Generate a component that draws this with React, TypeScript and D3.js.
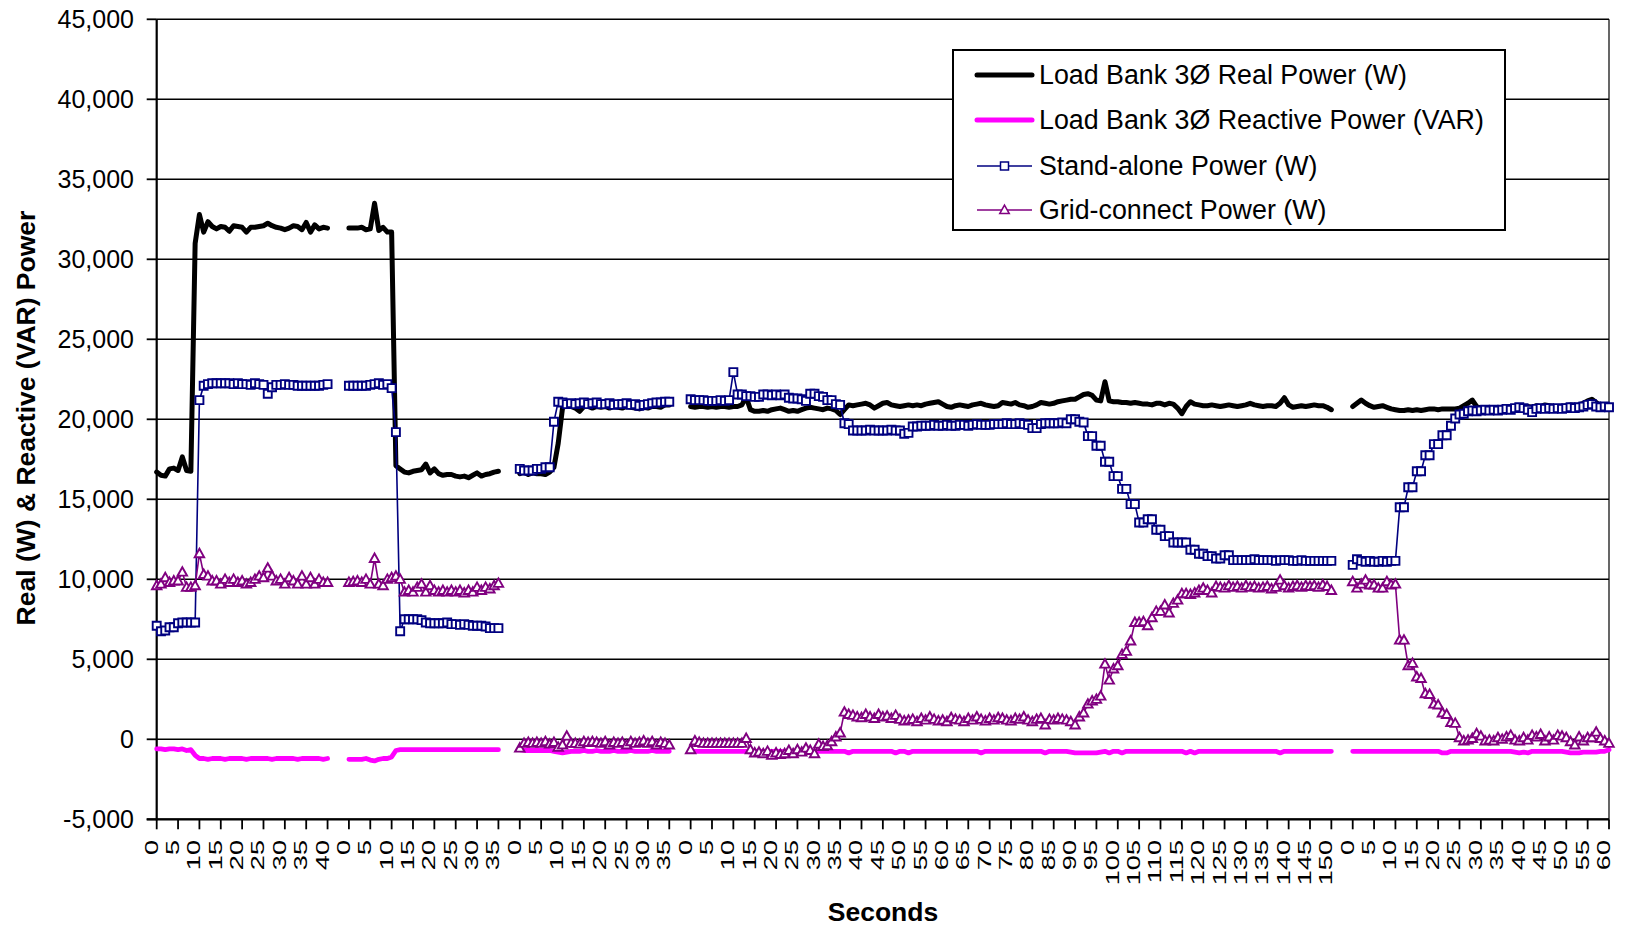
import React from 'react';
import * as d3 from 'd3';

// ---------- axis / category data ----------
const TOTAL_CATEGORIES = 341;
const SEGMENT_STARTS = [0, 45, 85, 125, 280];
const X_TICK_STEP = 5;
const xTickLabels = [
  '0', '5', '10', '15', '20', '25', '30', '35', '40',
  '0', '5', '10', '15', '20', '25', '30', '35',
  '0', '5', '10', '15', '20', '25', '30', '35',
  '0', '5', '10', '15', '20', '25', '30', '35', '40', '45', '50', '55', '60', '65', '70', '75',
  '80', '85', '90', '95', '100', '105', '110', '115', '120', '125', '130', '135', '140', '145', '150',
  '0', '5', '10', '15', '20', '25', '30', '35', '40', '45', '50', '55', '60',
];
const yTickValues = [-5000, 0, 5000, 10000, 15000, 20000, 25000, 30000, 35000, 40000, 45000];
const yTickLabels = ['-5,000', '0', '5,000', '10,000', '15,000', '20,000', '25,000', '30,000', '35,000', '40,000', '45,000'];

const seriesNames = [
  'Load Bank 3\u00D8 Real Power (W)',
  'Load Bank 3\u00D8 Reactive Power (VAR)',
  'Stand-alone Power (W)',
  'Grid-connect Power (W)',
];

// ---------- Load Bank real power (W) ----------
const realSeg1 = [
  16700, 16500, 16450, 16900, 16950, 16800, 17650, 16800, 16750, 31000,
  32800, 31700, 32350, 32050, 31900, 32050, 32000, 31750, 32100, 32050,
  32000, 31700, 32000, 32000, 32050, 32100, 32250, 32100, 32000, 31950,
  31850, 31950, 32100, 32050, 31850, 32300, 31700, 32150, 31900, 32000,
  31950,
];
const realSeg2 = [
  31950, 31950, 31950, 32000, 31850, 31900, 33500, 31800, 32000, 31700,
  31700, 17100, 16900, 16700, 16650, 16750, 16800, 16850, 17200, 16650,
  16900, 16600, 16500, 16550, 16550, 16450, 16400, 16450, 16350, 16500,
  16650, 16450, 16550, 16600, 16700, 16750,
];
const realSeg3 = [
  16600, 16700, 16550, 16650, 16600, 16600, 16550, 16700, 17000, 18500,
  20700, 20900, 20800, 20700, 20500, 20800, 20800, 20700, 20800, 20750,
  20800, 20700, 20800, 20750, 20700, 20800, 20750, 20700, 20650, 20750,
  20700, 20800, 20800, 20750, 20900, 20900,
];
const realSeg4 = [
  20800, 20750, 20800, 20800, 20750, 20800, 20750, 20800, 20800, 20750,
  20800, 20800, 20900, 21400, 20600, 20500, 20500, 20550, 20500, 20600,
  20650, 20700, 20600, 20500, 20550, 20500, 20600, 20700, 20750, 20700,
  20650, 20600, 20700, 20650, 20550, 20300, 20600, 20900, 20850, 20900,
  20950, 21000, 20900, 20700, 20850, 21000, 21050, 20900, 20850, 20800,
  20850, 20900, 20850, 20900, 20850, 20950, 21000, 21050, 21100, 20950,
  20800, 20750, 20850, 20900, 20850, 20800, 20900, 20950, 21000, 20900,
  20850, 20800, 20850, 21050, 21000, 20950, 21050, 20900, 20850, 20750,
  20800, 20900, 21050, 21000, 20950, 21000, 21100, 21150, 21200, 21250,
  21250, 21400, 21550, 21600, 21500, 21200, 21150, 22350, 21150, 21100,
  21100, 21050, 21050, 21000, 21050, 21000, 20950, 20950, 20900, 21000,
  21000, 20900, 21000, 20950, 20700, 20350, 20800, 21100, 20950, 20900,
  20850, 20850, 20900, 20850, 20800, 20850, 20900, 20850, 20800, 20850,
  20900, 21000, 20900, 20850, 20800, 20850, 20850, 20800, 21000, 21350,
  20900, 20750, 20800, 20850, 20800, 20850, 20900, 20850, 20850, 20750,
  20600,
];
const realSeg5 = [
  20800, 21000, 21200, 21000, 20850, 20750, 20800, 20850, 20750, 20650,
  20600, 20550, 20550, 20600, 20550, 20600, 20550, 20600, 20650, 20650,
  20600, 20650, 20650, 20650, 20650, 20700, 20850, 21000, 21200, 20800,
  20700, 20650, 20600, 20600, 20650, 20700, 20650, 20700, 20750, 20700,
  20750, 20800, 20750, 20850, 20800, 20900, 20850, 20800, 20750, 20800,
  20850, 20900, 20850, 20900, 21000, 21150, 21250, 21050, 20850, 20800,
  20800,
];

// ---------- Load Bank reactive power (VAR) ----------
const reactiveSeg1 = [
  -600, -600, -650, -600, -600, -650, -600, -700, -650, -1000,
  -1200, -1200, -1250, -1200, -1200, -1200, -1250, -1200, -1200, -1200,
  -1200, -1250, -1200, -1200, -1200, -1200, -1200, -1250, -1200, -1200,
  -1200, -1200, -1200, -1250, -1200, -1200, -1200, -1200, -1200, -1250,
  -1200,
];
const reactiveSeg2 = [
  -1250, -1250, -1250, -1250, -1200, -1300, -1350, -1250, -1200, -1200,
  -1100, -700, -650, -650, -650, -650, -650, -650, -650, -650,
  -650, -650, -650, -650, -650, -650, -650, -650, -650, -650,
  -650, -650, -650, -650, -650, -650,
];
const reactiveSeg3 = [
  -650, -700, -700, -700, -700, -700, -700, -700, -750, -800,
  -850, -800, -750, -750, -750, -700, -750, -750, -700, -750,
  -750, -750, -700, -750, -750, -750, -700, -750, -750, -750,
  -750, -700, -750, -750, -750, -750,
];
const reactiveSeg4 = [
  -750, -750, -750, -750, -750, -750, -750, -750, -750, -750,
  -750, -750, -750, -750, -800, -750, -750, -750, -750, -750,
  -750, -750, -750, -750, -750, -750, -750, -750, -750, -750,
  -750, -750, -750, -750, -750, -750, -750, -850, -750, -750,
  -750, -750, -750, -750, -750, -750, -750, -750, -850, -750,
  -750, -850, -750, -750, -750, -750, -750, -750, -750, -750,
  -750, -750, -750, -750, -750, -750, -750, -750, -850, -750,
  -750, -750, -750, -750, -750, -750, -750, -750, -750, -750,
  -750, -750, -750, -850, -750, -750, -750, -750, -750, -800,
  -850, -850, -850, -850, -850, -850, -800, -750, -850, -750,
  -750, -850, -750, -750, -750, -750, -750, -750, -750, -750,
  -750, -750, -750, -750, -750, -750, -850, -750, -850, -750,
  -750, -750, -750, -750, -750, -750, -750, -750, -750, -750,
  -750, -750, -750, -750, -750, -750, -750, -750, -850, -750,
  -750, -750, -750, -750, -750, -750, -750, -750, -750, -750,
  -750,
];
const reactiveSeg5 = [
  -750, -750, -750, -750, -750, -750, -750, -750, -750, -750,
  -750, -750, -750, -750, -750, -750, -750, -750, -750, -750,
  -750, -850, -850, -750, -750, -750, -750, -750, -750, -750,
  -750, -750, -750, -750, -750, -750, -750, -750, -800, -850,
  -800, -850, -750, -750, -750, -750, -750, -750, -750, -750,
  -800, -850, -850, -850, -800, -800, -800, -800, -750, -750,
  -650,
];

// ---------- Stand-alone power (W) ----------
const standAloneSeg1 = [
  7100, 6750, 6800, 7000, 7000, 7250, 7300, 7300, 7300, 7300,
  21200, 22100, 22200, 22250, 22250, 22250, 22250, 22250, 22200, 22250,
  22200, 22200, 22150, 22250, 22200, 22150, 21600, 22000, 22150, 22150,
  22200, 22150, 22150, 22100, 22100, 22100, 22100, 22100, 22100, 22150,
  22200,
];
const standAloneSeg2 = [
  22100, 22100, 22100, 22100, 22100, 22150, 22200, 22250, 22150, 22200,
  21950, 19200, 6750, 7500, 7500, 7500, 7500, 7450, 7300, 7250,
  7250, 7250, 7250, 7300, 7200, 7200, 7150, 7200, 7150, 7100,
  7100, 7100, 7050, 6950, 6950, 6950,
];
const standAloneSeg3 = [
  16900, 16800, 16800, 16800, 16900, 16900, 17000, 17000, 19850, 21100,
  21050, 20950, 21000, 20950, 21000, 21050, 20950, 21000, 21050, 20950,
  20950, 21000, 20900, 20950, 20950, 21000, 20900, 20950, 20850, 20900,
  20950, 21000, 21050, 21050, 21100, 21100,
];
const standAloneSeg4 = [
  21250, 21200, 21200, 21200, 21150, 21150, 21150, 21200, 21150, 21200,
  22950, 21550, 21550, 21450, 21450, 21400, 21400, 21550, 21550, 21500,
  21550, 21500, 21550, 21350, 21300, 21300, 21250, 21150, 21600, 21600,
  21450, 21400, 21200, 21200, 20950, 20900, 19750, 19700, 19300, 19300,
  19300, 19300, 19350, 19300, 19300, 19300, 19300, 19350, 19300, 19300,
  19100, 19150, 19550, 19550, 19600, 19600, 19600, 19650, 19600, 19600,
  19650, 19600, 19600, 19650, 19650, 19600, 19650, 19700, 19650, 19650,
  19650, 19700, 19700, 19700, 19750, 19700, 19700, 19750, 19700, 19650,
  19450, 19450, 19700, 19750, 19750, 19750, 19750, 19800, 19750, 20000,
  20000, 19850, 19800, 18950, 18950, 18350, 18350, 17350, 17350, 16450,
  16450, 15650, 15650, 14700, 14700, 13550, 13550, 13750, 13750, 13100,
  13100, 12700, 12700, 12300, 12300, 12300, 12300, 11850, 11850, 11600,
  11600, 11450, 11450, 11300, 11300, 11500, 11500, 11200, 11200, 11200,
  11200, 11200, 11250, 11200, 11200, 11200, 11200, 11150, 11200, 11200,
  11200, 11150, 11150, 11200, 11150, 11150, 11150, 11150, 11150, 11150,
  11150,
];
const standAloneSeg5 = [
  10900, 11250, 11150, 11100, 11150, 11100, 11100, 11150, 11100, 11150,
  11150, 14500, 14500, 15750, 15750, 16750, 16750, 17750, 17750, 18450,
  18450, 19000, 19000, 19600, 20050, 20300, 20350, 20500, 20550, 20500,
  20550, 20600, 20550, 20600, 20550, 20600, 20650, 20600, 20700, 20750,
  20700, 20600, 20450, 20650, 20700, 20650, 20700, 20650, 20700, 20650,
  20700, 20750, 20700, 20750, 20800, 20900, 20950, 20800, 20750, 20800,
  20750,
];

// ---------- Grid-connect power (W) ----------
const gridSeg1 = [
  9600, 9700, 10100, 9800, 9900, 9900, 10450, 9500, 9500, 9600,
  11600, 10300, 10200, 9900, 9900, 9700, 10000, 9800, 10000, 9800,
  9900, 9700, 9800, 10000, 10200, 10100, 10700, 10200, 9900, 10000,
  9700, 10100, 9900, 9700, 10200, 9700, 10100, 9700, 10000, 9800,
  9800,
];
const gridSeg2 = [
  9800, 9850, 9900, 9800, 10000, 9700, 11300, 9700, 9600, 10000,
  10100, 10200, 10000, 9200, 9300, 9200, 9500, 9700, 9200, 9600,
  9300, 9200, 9300, 9200, 9300, 9200, 9300, 9150, 9300, 9200,
  9500, 9300, 9500, 9400, 9600, 9750,
];
const gridSeg3 = [
  -550, -250, -200, -250, -200, -250, -150, -300, -200, -500,
  -350, 200, -250, -250, -300, -150, -200, -150, -200, -250,
  -150, -350, -200, -250, -200, -350, -150, -250, -200, -100,
  -250, -150, -350, -200, -250, -350,
];
const gridSeg4 = [
  -650, -100, -200, -250, -250, -250, -250, -250, -250, -250,
  -250, -250, -250, 50, -650, -850, -800, -900, -750, -1000,
  -850, -950, -900, -700, -900, -650, -800, -550, -700, -900,
  -300, -450, -400, -150, 150, 400, 1700, 1550, 1500, 1400,
  1350, 1550, 1400, 1300, 1550, 1400, 1450, 1300, 1500, 1250,
  1150, 1200, 1250, 1100, 1300, 1200, 1400, 1250, 1150, 1200,
  1100, 1350, 1250, 1200, 1100, 1300, 1200, 1400, 1250, 1150,
  1300, 1200, 1350, 1300, 1200, 1150, 1300, 1250, 1400, 1200,
  1100, 1250, 1300, 900, 1250, 1200, 1300, 1250, 1200, 1100,
  900, 1400, 1650, 2200, 2400, 2500, 2700, 4700, 3700, 4400,
  4600, 5300, 5500, 6150, 7300, 7300, 7350, 7100, 7600, 8000,
  8000, 8400, 7900, 8500, 8700, 9100, 9100, 9050, 9150, 9300,
  9450, 9300, 9150, 9550, 9500, 9450, 9600, 9500, 9550, 9450,
  9600, 9500, 9550, 9450, 9500, 9550, 9400, 9500, 9950, 9600,
  9450, 9550, 9600, 9500, 9600, 9550, 9600, 9500, 9650, 9550,
  9300,
];
const gridSeg5 = [
  9850, 9450, 9700, 9950, 9650, 9650, 9450, 9450, 9850, 9650,
  9700, 6200, 6200, 4600, 4750, 3900, 3800, 2850, 2800, 2200,
  2150, 1650, 1550, 1050, 1000, 100, -100, -50, 50, 350,
  200, -100, -50, -100, 100, 0, 150, 250, -50, -100,
  100, -50, 250, 150, 300, -100, 150, -50, 250, 200,
  100, -150, -350, 150, -100, 100, 100, 450, 50, -100,
  -250,
];

// ---------- assembly ----------
type V = number | null;
function assemble(segs: number[][]): V[] {
  const out: V[] = new Array(TOTAL_CATEGORIES).fill(null);
  segs.forEach((s, k) => s.forEach((v, j) => { out[SEGMENT_STARTS[k] + j] = v; }));
  return out;
}

const real = assemble([realSeg1, realSeg2, realSeg3, realSeg4, realSeg5]);
const reactive = assemble([reactiveSeg1, reactiveSeg2, reactiveSeg3, reactiveSeg4, reactiveSeg5]);
const standAlone = assemble([standAloneSeg1, standAloneSeg2, standAloneSeg3, standAloneSeg4, standAloneSeg5]);
const grid = assemble([gridSeg1, gridSeg2, gridSeg3, gridSeg4, gridSeg5]);

const W = 1629;
const H = 928;
const PLOT = { left: 156.7, right: 1609, top: 19.3, bottom: 819.3 };
const FONT = "'Liberation Sans', Arial, Helvetica, sans-serif";

const BLACK = '#000000';
const MAGENTA = '#FF00FF';
const NAVY = '#000080';
const PURPLE = '#800080';

function squarePath(s: number) {
  const h = s / 2;
  return `M${-h},${-h}H${h}V${h}H${-h}Z`;
}
function trianglePath(w: number, h: number) {
  return `M0,${-h * 0.58}L${w / 2},${h * 0.42}L${-w / 2},${h * 0.42}Z`;
}

export default function App() {
  const x = d3.scaleLinear().domain([0, TOTAL_CATEGORIES - 1]).range([PLOT.left, PLOT.right]);
  const y = d3.scaleLinear().domain([-5000, 45000]).range([PLOT.bottom, PLOT.top]);

  const line = d3
    .line<V>()
    .defined((d) => d !== null)
    .x((_, i) => x(i))
    .y((d) => y(d as number));

  const pts = (arr: V[]) =>
    arr.map((v, i) => (v === null ? null : { i, cx: x(i), cy: y(v) })).filter(Boolean) as {
      i: number;
      cx: number;
      cy: number;
    }[];

  const sq = squarePath(8);
  const tri = trianglePath(9.5, 8.5);

  const xTicks = xTickLabels.map((lab, k) => ({ lab, idx: k * X_TICK_STEP }));

  const legendRows = [
    { name: seriesNames[0], color: BLACK, width: 5, marker: null as string | null, y: 75 },
    { name: seriesNames[1], color: MAGENTA, width: 5, marker: null, y: 120 },
    { name: seriesNames[2], color: NAVY, width: 1.6, marker: 'sq', y: 166 },
    { name: seriesNames[3], color: PURPLE, width: 1.6, marker: 'tri', y: 210 },
  ];

  return (
    <svg
      width={W}
      height={H}
      viewBox={`0 0 ${W} ${H}`}
      style={{ position: 'absolute', left: 0, top: 0, background: '#fff' }}
      fontFamily={FONT}
    >
      <rect x={0} y={0} width={W} height={H} fill="#fff" />

      {/* gridlines */}
      {yTickValues.map((v) => (
        <line key={'g' + v} x1={PLOT.left} x2={PLOT.right} y1={y(v)} y2={y(v)} stroke="#000" strokeWidth={1.6} />
      ))}
      {/* right border */}
      <line x1={PLOT.right} x2={PLOT.right} y1={PLOT.top} y2={PLOT.bottom} stroke="#000" strokeWidth={1.2} />

      {/* y axis */}
      <line x1={PLOT.left} x2={PLOT.left} y1={PLOT.top} y2={PLOT.bottom + 1} stroke="#000" strokeWidth={2.2} />
      {yTickValues.map((v, k) => (
        <g key={'yt' + v}>
          <line x1={PLOT.left - 10} x2={PLOT.left} y1={y(v)} y2={y(v)} stroke="#000" strokeWidth={1.8} />
          <text x={134} y={y(v)} textAnchor="end" dominantBaseline="central" fontSize={25} fill="#000">
            {yTickLabels[k]}
          </text>
        </g>
      ))}

      {/* x axis */}
      <line x1={PLOT.left - 10} x2={PLOT.right} y1={PLOT.bottom} y2={PLOT.bottom} stroke="#000" strokeWidth={2.2} />
      {xTicks.map((t, k) => (
        <g key={'xt' + k}>
          <line x1={x(t.idx)} x2={x(t.idx)} y1={PLOT.bottom} y2={PLOT.bottom + 10} stroke="#000" strokeWidth={1.8} />
          <text
            transform={`translate(${x(t.idx) + 1},${840}) rotate(-90) scale(1.55,1)`}
            textAnchor="end"
            fontSize={17.5}
            fill="#000"
          >
            {t.lab}
          </text>
        </g>
      ))}

      {/* series */}
      <path d={line(real) || ''} fill="none" stroke={BLACK} strokeWidth={5} strokeLinejoin="round" strokeLinecap="round" />
      <path d={line(reactive) || ''} fill="none" stroke={MAGENTA} strokeWidth={4.8} strokeLinejoin="round" strokeLinecap="round" />

      <path d={line(standAlone) || ''} fill="none" stroke={NAVY} strokeWidth={1.6} />
      {pts(standAlone).map((p) => (
        <path key={'s' + p.i} d={sq} transform={`translate(${p.cx},${p.cy})`} fill="#fff" stroke={NAVY} strokeWidth={1.9} />
      ))}

      <path d={line(grid) || ''} fill="none" stroke={PURPLE} strokeWidth={1.6} />
      {pts(grid).map((p) => (
        <path key={'p' + p.i} d={tri} transform={`translate(${p.cx},${p.cy})`} fill="#fff" stroke={PURPLE} strokeWidth={1.9} />
      ))}

      {/* axis titles */}
      <text
        transform={`translate(26,418) rotate(-90)`}
        textAnchor="middle"
        dominantBaseline="central"
        fontSize={26.5}
        fontWeight="bold"
        fill="#000"
      >
        Real (W) &amp; Reactive (VAR) Power
      </text>
      <text x={883} y={912} textAnchor="middle" dominantBaseline="central" fontSize={26.5} fontWeight="bold" fill="#000">
        Seconds
      </text>

      {/* legend */}
      <rect x={953} y={50} width={552} height={180} fill="#fff" stroke="#000" strokeWidth={2} />
      {legendRows.map((r) => (
        <g key={r.name}>
          <line x1={977} x2={1032} y1={r.y} y2={r.y} stroke={r.color} strokeWidth={r.width} strokeLinecap={r.marker ? 'butt' : 'round'} />
          {r.marker === 'sq' && (
            <path d={sq} transform={`translate(1004.5,${r.y})`} fill="#fff" stroke={r.color} strokeWidth={1.5} />
          )}
          {r.marker === 'tri' && (
            <path d={tri} transform={`translate(1004.5,${r.y})`} fill="#fff" stroke={r.color} strokeWidth={1.5} />
          )}
          <text x={1039} y={r.y} dominantBaseline="central" fontSize={26.8} fill="#000">
            {r.name}
          </text>
        </g>
      ))}
    </svg>
  );
}
